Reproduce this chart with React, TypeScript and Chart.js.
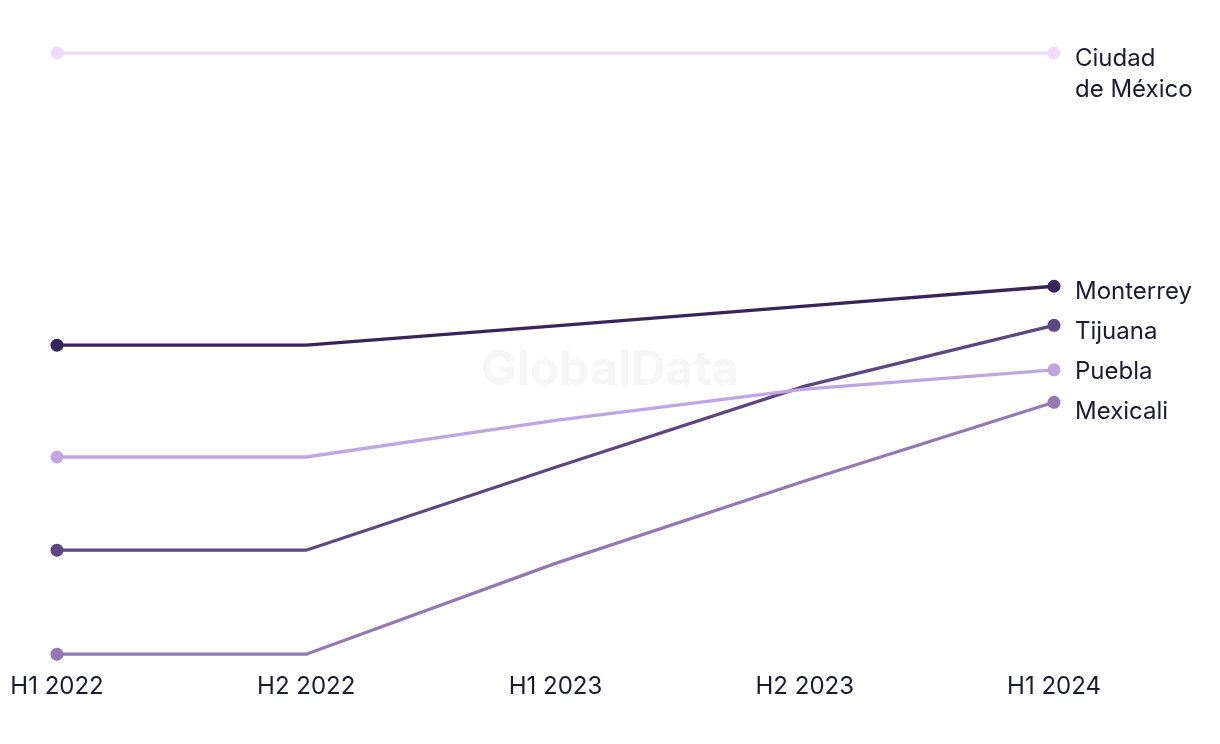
import React, { useEffect, useRef } from "react";
import { Chart, registerables } from "chart.js";

Chart.register(...registerables);

const periods = ["H1 2022", "H2 2022", "H1 2023", "H2 2023", "H1 2024"];
const cities = ["Ciudad de México", "Monterrey", "Tijuana", "Puebla", "Mexicali"];
const cityLabelLines = [["Ciudad", "de México"], ["Monterrey"], ["Tijuana"], ["Puebla"], ["Mexicali"]];
const ciudadValues = [100, 100, 100, 100, 100];
const monterreyValues = [51.4, 51.4, 54.6, 57.9, 61.2];
const tijuanaValues = [17.3, 17.3, 31.1, 44.6, 54.7];
const pueblaValues = [32.8, 32.8, 38.9, 44.1, 47.3];
const mexicaliValues = [0, 0, 15.1, 28.8, 41.9];
const seriesValues = [ciudadValues, monterreyValues, tijuanaValues, pueblaValues, mexicaliValues];
const seriesColors = ["#f0dbfa", "#36245a", "#5d4681", "#c1a5e3", "#9478b6"];

const FONT = "Inter, 'Noto Sans', sans-serif";
const TEXT = "#1b1b2f";

const endLabels = {
  id: "endLabels",
  afterDatasetsDraw(chart: any) {
    const ctx = chart.ctx;
    const items: any[] = [];
    chart.data.datasets.forEach((ds: any, i: number) => {
      const meta = chart.getDatasetMeta(i);
      const pt = meta.data[meta.data.length - 1];
      items.push({ lines: ds.labelLines, y: pt.y + 6, x: pt.x + 21 });
    });
    items.sort((a, b) => a.y - b.y);
    const gap = 40;
    let clusters: any[] = items.map((it) => ({ items: [it], desired: [it.y] }));
    const place = (c: any) => {
      const n = c.items.length;
      let sum = 0;
      c.desired.forEach((d: number, k: number) => (sum += d - k * gap));
      c.top = sum / n;
    };
    clusters.forEach(place);
    let merged = true;
    while (merged) {
      merged = false;
      for (let k = 0; k < clusters.length - 1; k++) {
        const a = clusters[k];
        const b = clusters[k + 1];
        const aBottom = a.top + (a.items.length - 1) * gap;
        if (b.top - aBottom < gap) {
          const c = { items: a.items.concat(b.items), desired: a.desired.concat(b.desired) };
          place(c);
          clusters.splice(k, 2, c);
          merged = true;
          break;
        }
      }
    }
    ctx.save();
    ctx.font = `24px ${FONT}`;
    ctx.fillStyle = TEXT;
    ctx.textAlign = "left";
    ctx.textBaseline = "middle";
    clusters.forEach((c) => {
      c.items.forEach((it: any, k: number) => {
        const y = c.top + k * gap;
        it.lines.forEach((line: string, li: number) => {
          ctx.fillText(line, it.x, y + li * 31);
        });
      });
    });
    ctx.restore();
  },
};

const watermark = {
  id: "watermark",
  beforeDatasetsDraw(chart: any) {
    const ctx = chart.ctx;
    ctx.save();
    ctx.font = `bold 48px ${FONT}`;
    ctx.fillStyle = "#f6f6f6";
    ctx.textAlign = "center";
    ctx.textBaseline = "middle";
    ctx.fillText("GlobalData", 610, 371);
    ctx.restore();
  },
};

export default function App() {
  const ref = useRef<HTMLCanvasElement | null>(null);
  useEffect(() => {
    document.body.style.margin = "0";
    const canvas = ref.current!;
    const order = [4, 3, 2, 1, 0];
    const chart = new Chart(canvas, {
      type: "line",
      data: {
        labels: periods,
        datasets: order.map((i) => ({
          label: cities[i],
          labelLines: cityLabelLines[i],
          data: seriesValues[i],
          borderColor: seriesColors[i],
          backgroundColor: seriesColors[i],
          pointBackgroundColor: seriesColors[i],
          pointBorderWidth: 0,
          borderWidth: 3.3,
          tension: 0,
          clip: false,
          pointRadius: (c: any) => (c.dataIndex === 0 || c.dataIndex === periods.length - 1 ? 6.5 : 0),
          pointHoverRadius: 0,
        })) as any,
      },
      options: {
        animation: false,
        responsive: false,
        maintainAspectRatio: false,
        events: [],
        layout: { padding: { left: 57, right: 166, top: 53, bottom: 25 } },
        plugins: { legend: { display: false }, tooltip: { enabled: false } },
        scales: {
          x: {
            offset: false,
            grid: { display: false, drawTicks: false },
            border: { display: false },
            afterFit: (scale: any) => {
              scale.paddingLeft = 0;
              scale.paddingRight = 0;
            },
            ticks: { color: TEXT, font: { family: FONT, size: 24 }, padding: 18, maxRotation: 0, autoSkip: false },
          },
          y: { display: false, min: 0, max: 100 },
        },
      },
      plugins: [watermark, endLabels],
    });
    return () => chart.destroy();
  }, []);
  return <canvas ref={ref} width={1220} height={744} style={{ display: "block" }} />;
}
